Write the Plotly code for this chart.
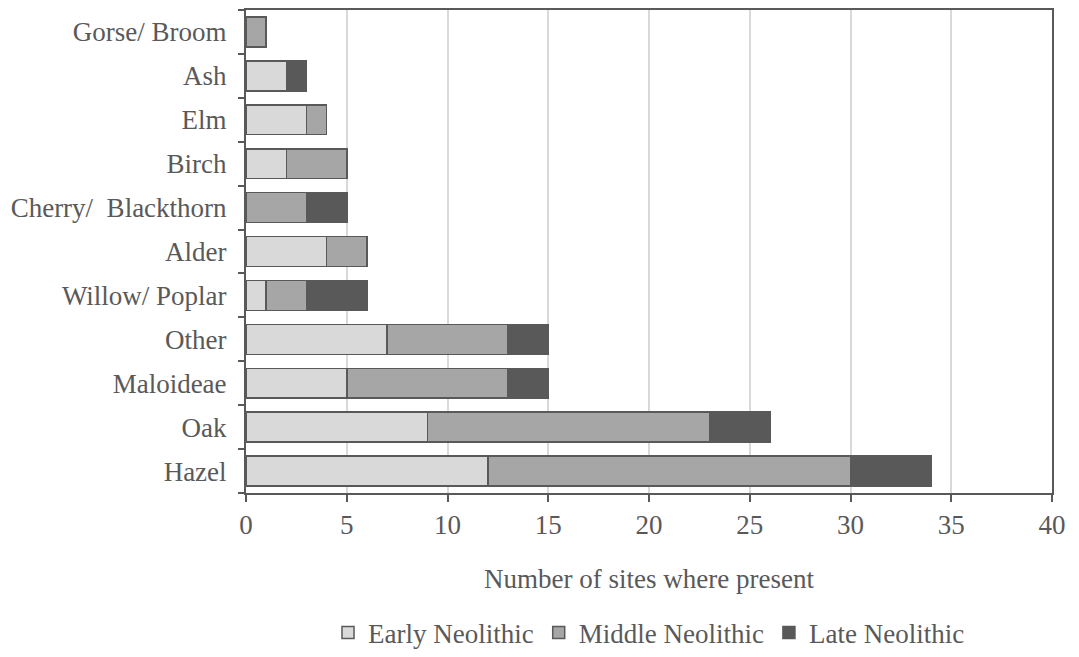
import plotly.graph_objects as go

categories = ["Hazel", "Oak", "Maloideae", "Other", "Willow/ Poplar", "Alder",
              "Cherry/  Blackthorn", "Birch", "Elm", "Ash", "Gorse/ Broom"]
early = [12, 9, 5, 7, 1, 4, 0, 2, 3, 2, 0]
middle = [18, 14, 8, 6, 2, 2, 3, 3, 1, 0, 1]
late = [4, 3, 2, 2, 3, 0, 2, 0, 0, 1, 0]
series_names = ["Early Neolithic", "Middle Neolithic", "Late Neolithic"]
colors = ["#D9D9D9", "#A6A6A6", "#595959"]

FONT = "Liberation Serif"
TXT = "#595959"
FS = 27

fig = go.Figure()
for name, vals, col in zip(series_names, [early, middle, late], colors):
    fig.add_trace(go.Bar(
        y=categories, x=vals, name=name, orientation="h",
        marker=dict(color=col, line=dict(color="#595959", width=1.5)),
    ))

fig.update_layout(
    barmode="stack",
    bargap=0.32,
    width=1079, height=657,
    margin=dict(l=238, r=35, t=2, b=172, autoexpand=False),
    paper_bgcolor="white", plot_bgcolor="white",
    font=dict(family=FONT, size=FS, color=TXT),
    legend=dict(orientation="h", x=0.5, xanchor="center", y=-0.29, yanchor="middle",
                font=dict(family=FONT, size=FS, color=TXT),
                traceorder="normal", itemwidth=30),
    xaxis=dict(range=[0, 40], dtick=5, showgrid=True, gridcolor="#D9D9D9", gridwidth=2,
               showline=True, linecolor="#595959", linewidth=2, mirror=True,
               ticks="outside", ticklen=7, tickcolor="#595959", tickwidth=2,
               zeroline=False, automargin=False,
               title=dict(text="Number of sites where present", standoff=30,
                          font=dict(family=FONT, size=FS, color=TXT)),
               tickfont=dict(family=FONT, size=FS, color=TXT)),
    yaxis=dict(showgrid=False, showline=True, linecolor="#595959", linewidth=2, mirror=True,
               ticks="outside", ticklen=6, tickcolor="#595959", tickwidth=2,
               tickson="boundaries", ticklabelstandoff=12, automargin=False,
               tickfont=dict(family=FONT, size=FS, color=TXT)),
)

fig.write_html("out.html")
